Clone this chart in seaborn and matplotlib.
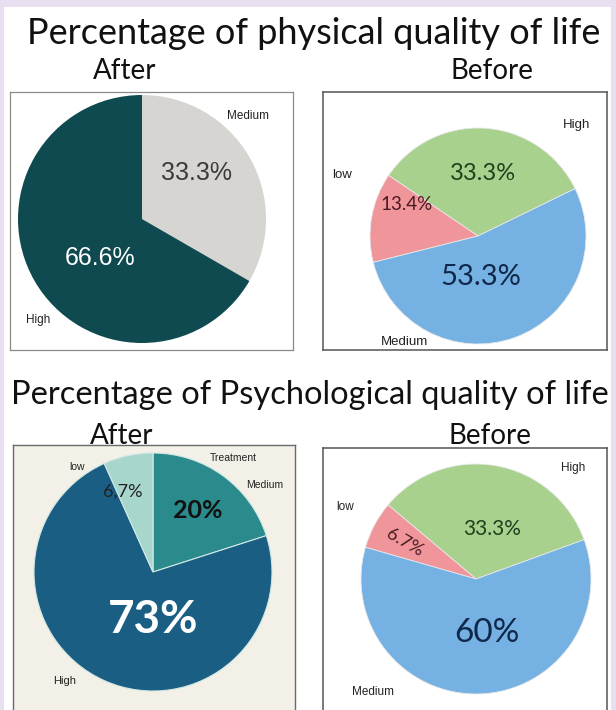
import matplotlib
matplotlib.use("Agg")
import matplotlib.pyplot as plt
import seaborn as sns

W, H = 616, 710

# ---- data ----
phys_after_labels = ["Medium", "High"]
phys_after_values = [33.3, 66.6]
phys_after_pct = ["33.3%", "66.6%"]

phys_before_labels = ["High", "low", "Medium"]
phys_before_values = [33.3, 13.4, 53.3]
phys_before_pct = ["33.3%", "13.4%", "53.3%"]

psy_after_labels = ["Medium", "High", "low"]
psy_after_values = [20, 73, 6.7]
psy_after_pct = ["20%", "73%", "6,7%"]

psy_before_labels = ["High", "low", "Medium"]
psy_before_values = [33.3, 6.7, 60]
psy_before_pct = ["33.3%", "6.7%", "60%"]

titles = ["Percentage of physical quality of life",
          "Percentage of Psychological quality of life"]
sub_titles = ["After", "Before"]

sns.set_theme(style="white")
plt.rcParams["font.family"] = ["Lato", "DejaVu Sans"]

fig = plt.figure(figsize=(W / 100, H / 100), dpi=100)
fig.patch.set_facecolor("#e8dff0")
# white sheet
bg = fig.add_axes([4 / W, 0, (611 - 4) / W, 1 - 7 / H])
bg.set_facecolor("white")
bg.set_xticks([]); bg.set_yticks([])
for s in bg.spines.values():
    s.set_visible(False)


def ftext(x, y, s, **kw):
    fig.text(x / W, 1 - y / H, s, ha="center", va="center", **kw)


def panel(x0, y0, x1, y1, face, edge, lw):
    ax = fig.add_axes([x0 / W, 1 - y1 / H, (x1 - x0) / W, (y1 - y0) / H])
    return ax, (x0, y0, x1, y1, face, edge, lw)


def finish(ax, spec):
    x0, y0, x1, y1, face, edge, lw = spec
    ax.set_xlim(x0, x1)
    ax.set_ylim(H - y1, H - y0)
    ax.set_aspect("auto")
    ax.set_frame_on(True)
    ax.set_facecolor(face)
    ax.set_xticks([]); ax.set_yticks([])
    for s in ax.spines.values():
        s.set_visible(True)
        s.set_color(edge)
        s.set_linewidth(lw)


def t(ax, x, y, s, **kw):
    ax.text(x, H - y, s, ha="center", va="center", **kw)


title_font = dict(family=["Lato", "DejaVu Sans"], color="#111111")
ftext(314, 34, titles[0], fontsize=26, **title_font)
ftext(125, 71, sub_titles[0], fontsize=20, **title_font)
ftext(492, 71, sub_titles[1], fontsize=20, **title_font)
ftext(310, 395, titles[1], fontsize=23.5, **title_font)
ftext(122, 436, sub_titles[0], fontsize=20, **title_font)
ftext(490, 436, sub_titles[1], fontsize=20, **title_font)

lab_font = dict(family=["Liberation Sans", "DejaVu Sans"], color="#222222")

# ---- panel 1: physical after ----
ax, sp = panel(10, 92, 293, 350, "white", "#8a8a8a", 0.9)
ax.pie(phys_after_values, colors=["#d6d5d1", "#0e4a4f"], startangle=90,
       counterclock=False, center=(142, H - 219), radius=124,
       wedgeprops=dict(linewidth=0))
finish(ax, sp)
t(ax, 248, 116, phys_after_labels[0], fontsize=8.5, **lab_font)
t(ax, 38, 320, phys_after_labels[1], fontsize=8.5, **lab_font)
t(ax, 197, 173, phys_after_pct[0], fontsize=18, color="#3a3a3a",
  family=["Liberation Sans"])
t(ax, 100, 258, phys_after_pct[1], fontsize=18, color="white",
  family=["Liberation Sans"])

# ---- panel 2: physical before ----
c_before = ["#a9d18e", "#f0969b", "#75b1e2"]
ax, sp = panel(323, 92, 607, 350, "white", "#555555", 1.1)
ax.pie(phys_before_values, colors=c_before, startangle=26,
       counterclock=True, center=(478, H - 236), radius=108,
       wedgeprops=dict(linewidth=0.6, edgecolor="#e8e8e8"))
finish(ax, sp)
t(ax, 577, 125, phys_before_labels[0], fontsize=9.5, **lab_font)
t(ax, 342, 175, phys_before_labels[1], fontsize=9.5, **lab_font)
t(ax, 405, 342, phys_before_labels[2], fontsize=9.5, **lab_font)
t(ax, 483, 173, phys_before_pct[0], fontsize=17, color="#20401c")
t(ax, 407, 205, phys_before_pct[1], fontsize=13.5, color="#4a1a22")
t(ax, 481, 277, phys_before_pct[2], fontsize=21, color="#10284a")

# ---- panel 3: psychological after ----
ax, sp = panel(13, 445, 295, 716, "#f3f1e7", "#6a6a6a", 1.0)
ax.pie(psy_after_values, colors=["#2b8a8b", "#1b5e84", "#a7d6cd"],
       startangle=90, counterclock=False, center=(153, H - 572), radius=119,
       wedgeprops=dict(linewidth=0.8, edgecolor="#cfe8e4"))
finish(ax, sp)
t(ax, 233, 458, "Treatment", fontsize=7.5, **lab_font)
t(ax, 265, 485, psy_after_labels[0], fontsize=7.5, **lab_font)
t(ax, 65, 681, psy_after_labels[1], fontsize=8, **lab_font)
t(ax, 77, 467, psy_after_labels[2], fontsize=7.5, **lab_font)
t(ax, 198, 510, psy_after_pct[0], fontsize=18, color="#111111",
  fontweight="bold")
t(ax, 153, 620, psy_after_pct[1], fontsize=33, color="white",
  fontweight="bold")
t(ax, 123, 492, psy_after_pct[2], fontsize=13, color="#222222")

# ---- panel 4: psychological before ----
ax, sp = panel(323, 448, 607, 716, "white", "#555555", 1.1)
ax.pie(psy_before_values, colors=c_before, startangle=20,
       counterclock=True, center=(476, H - 579), radius=115,
       wedgeprops=dict(linewidth=0.6, edgecolor="#e8e8e8"))
finish(ax, sp)
t(ax, 573, 468, psy_before_labels[0], fontsize=8.5, **lab_font)
t(ax, 345, 507, psy_before_labels[1], fontsize=8.5, **lab_font)
t(ax, 373, 692, psy_before_labels[2], fontsize=8.5, **lab_font)
t(ax, 492, 529, psy_before_pct[0], fontsize=15, color="#20401c")
t(ax, 405, 543, psy_before_pct[1], fontsize=13, color="#4a1a22",
  rotation=-30)
t(ax, 487, 633, psy_before_pct[2], fontsize=24, color="#10284a")

fig.savefig("out.png", dpi=100, facecolor=fig.get_facecolor())
